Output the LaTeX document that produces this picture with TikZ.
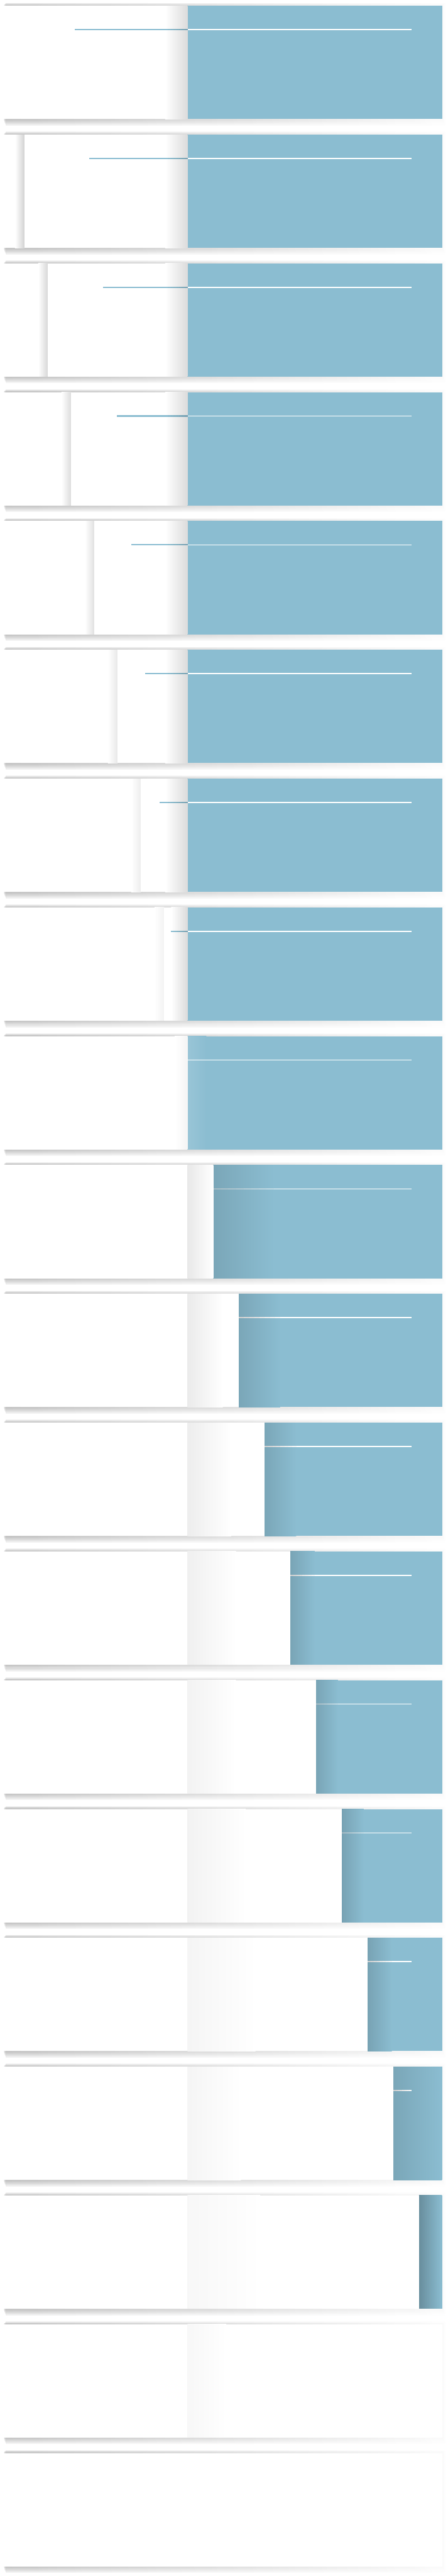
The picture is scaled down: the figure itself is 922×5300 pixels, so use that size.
\documentclass[tikz,border=0pt]{standalone}
\definecolor{pageblue}{HTML}{8BBDD1}
\tikzset{
  booklayer/.style={opacity=0.08, left color=black!65, middle color=black!14, right color=black!3},
  titlerule/.style={line width=2pt, white},
}
\begin{document}
\begin{tikzpicture}[x=1pt,y=-1pt]
\useasboundingbox (0,0) rectangle (922,5300);
\fill[white] (0,0) rectangle (922,5300);

\foreach \k in {0,...,19}{
  \pgfmathsetmacro{\T}{12+265*\k}
  \pgfmathsetmacro{\B}{\T+233}
  \foreach \i in {1,...,5}
    \shade[booklayer] (7+\i,\T-1.1*\i) rectangle (911+1.2*\i,\B+2.6*\i);
  \fill[white] (3,\T) rectangle (911,\B);
}

\foreach \k/\s in {0/0,1/18,2/16,3/14,4/12,5/9,6/7,7/5}{
  \pgfmathsetmacro{\T}{12+265*\k}
  \pgfmathsetmacro{\B}{\T+233}
  \pgfmathsetmacro{\E}{3+47.875*\k}
  \pgfmathsetmacro{\G}{max(\E+0.3*(386-\E),340)}
  \pgfmathsetmacro{\L}{386-0.605*(386-\E)}
  \fill[pageblue] (386,\T) rectangle (911,\B);
  \draw[titlerule] (386,\T+49) -- (847,\T+49);
  \ifnum\k>0 \shade[left color=white, right color=black!\s] (\E-20,\T) rectangle (\E,\B); \fi
  \fill[white] (\E,\T) rectangle (386,\B);
  \shade[left color=white, right color=black!14] (\G,\T) rectangle (386,\B);
  \fill[pageblue] (\L,\T+47.6) rectangle (\G,\T+50.4);
  \foreach \j in {0,...,7}{
    \pgfmathtruncatemacro{\q}{100-2*\j}
    \fill[pageblue!\q!black] ({\G+(386-\G)*\j/8},\T+47.6) rectangle ({\G+(386-\G)*(\j+1)/8+0.3},\T+50.4);
  }
}

\fill[pageblue] (386,2132) rectangle (911,2365);
\shade[left color=pageblue!88!white, right color=pageblue] (386,2132) rectangle (425,2365);
\shade[left color=white, right color=black!4] (360,2132) rectangle (386,2365);
\draw[titlerule] (386,2181) -- (847,2181);

\foreach \k/\w/\d/\g/\c in {9/125/12/53/9,10/85/12/73/8,11/65/12/90/7,12/50/13/100/6,13/45/13/100/5,14/45/14/120/5,15/50/14/140/4,16/100/12/110/4,17/47/25/150/3,18/0/0/80/3}{
  \pgfmathsetmacro{\T}{12+265*\k}
  \pgfmathsetmacro{\B}{\T+233}
  \pgfmathsetmacro{\R}{min(386+53*(\k-8),911)}
  \pgfmathsetmacro{\F}{min(\R+\w,847)}
  \pgfmathsetmacro{\H}{min(386+\g,\R)}
  \pgfmathtruncatemacro{\m}{100-\d}
  \ifnum\k<18
    \fill[pageblue] (\R,\T) rectangle (911,\B);
    \shade[left color=pageblue!\m!black, right color=pageblue] (\R,\T) rectangle (\R+\w,\B);
  \fi
  \ifdim\R pt<847pt
    \draw[titlerule] (\R,\T+49) -- (847,\T+49);
    \foreach \j in {0,...,7}{
      \pgfmathtruncatemacro{\q}{82+2.25*\j}
      \fill[white!\q!black] ({\R+(\F-\R)*\j/8},\T+48) rectangle ({\R+(\F-\R)*(\j+1)/8+0.3},\T+50);
    }
  \fi
  \fill[white] (386,\T) rectangle (\R,\B);
  \shade[left color=black!\c, right color=white] (386,\T) rectangle (\H,\B);
}
\end{tikzpicture}
\end{document}
